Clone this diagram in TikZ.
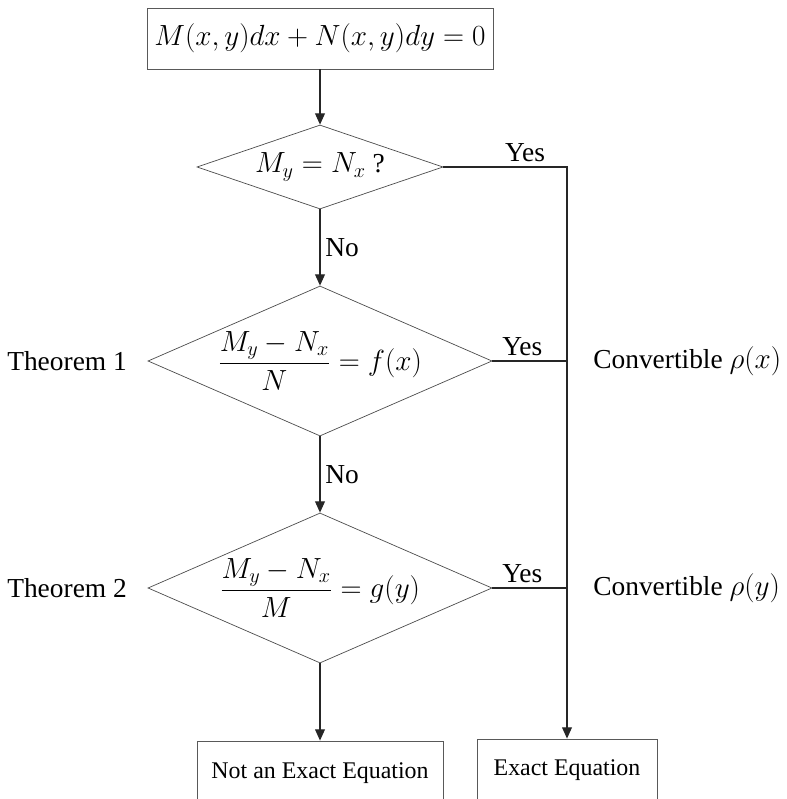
\documentclass[tikz,border=0pt]{standalone}
\usepackage{amsmath}
\usepackage{fontspec}
\setmainfont{Liberation Serif}
\usetikzlibrary{arrows.meta,shapes.geometric,positioning}

\begin{document}
\begin{tikzpicture}[
        x=0.025cm, y=-0.025cm,
        box/.style  = {draw=black!65, rectangle, inner sep=0pt, line width=0.6pt},
        dec/.style  = {draw=black!70, diamond, inner sep=0pt, line width=0.5pt,
                       font=\fontsize{19.5}{23}\selectfont},
        lbl/.style  = {font=\fontsize{19.5}{23}\selectfont},
        ln/.style   = {draw=black!85, line width=0.8pt},
        ar/.style   = {ln, -{Triangle[length=8pt, width=7pt]}},
    ]
        % ---- lienzo: 786 x 799 px, las cajas de abajo quedan cortadas ----
        \useasboundingbox (0,0) rectangle (786,799);
        \clip (0,0) rectangle (786,799);

        % ---- nodos: columna central x=320, carril derecho x=567 ----
        \node (start) [box, minimum width=8.65cm, minimum height=1.525cm,
            font=\fontsize{19.5}{23}\selectfont] at (320, 38.5)
            {$M(x,y)dx + N(x,y)dy = 0$};
        \node (q1) [dec, minimum width=6.15cm, minimum height=2.1cm, aspect=2.93]
            at (320, 167) {$M_y = N_x$ ?};
        \node (q2) [dec, minimum width=8.6cm, minimum height=3.75cm, aspect=2.29]
            at (320, 361) {$\dfrac{M_y - N_x}{N} = f(x)$};
        \node (q3) [dec, minimum width=8.6cm, minimum height=3.75cm, aspect=2.29]
            at (320, 588) {$\dfrac{M_y - N_x}{M} = g(y)$};
        \node (notex) [box, minimum width=6.15cm, minimum height=1.6cm,
            font=\fontsize{17}{20}\selectfont] at (320, 773) {Not an Exact Equation};
        \node (exact) [box, minimum width=4.5cm, minimum height=1.55cm,
            font=\fontsize{17}{20}\selectfont] at (567, 770) {Exact Equation};

        % ---- textos laterales ----
        \node (thm1) [lbl, anchor=west, inner sep=0pt] at (7, 361) {Theorem 1};
        \node (thm2) [lbl, anchor=west, inner sep=0pt] at (7, 588) {Theorem 2};
        \node (conv1) [lbl, anchor=west, inner sep=0pt] at (593, 361) {Convertible $\rho(x)$};
        \node (conv2) [lbl, anchor=west, inner sep=0pt] at (593, 588) {Convertible $\rho(y)$};

        % ---- flechas de la columna central ----
        \draw[ar] (start) -- (q1);
        \draw[ar] (q1) -- node[lbl, right] {No} (q2);
        \draw[ar] (q2) -- node[lbl, right] {No} (q3);
        \draw[ar] (q3) -- (notex);

        % ---- ramas "Yes" hacia el carril derecho ----
        \draw[ar] (q1.east) -| node[lbl, above, pos=0.33] {Yes} (exact.north);
        \draw[ln] (q2.east) -- node[lbl, above, pos=0.4] {Yes} (q2.east -| exact.north);
        \draw[ln] (q3.east) -- node[lbl, above, pos=0.4] {Yes} (q3.east -| exact.north);
    \end{tikzpicture}
\end{document}
